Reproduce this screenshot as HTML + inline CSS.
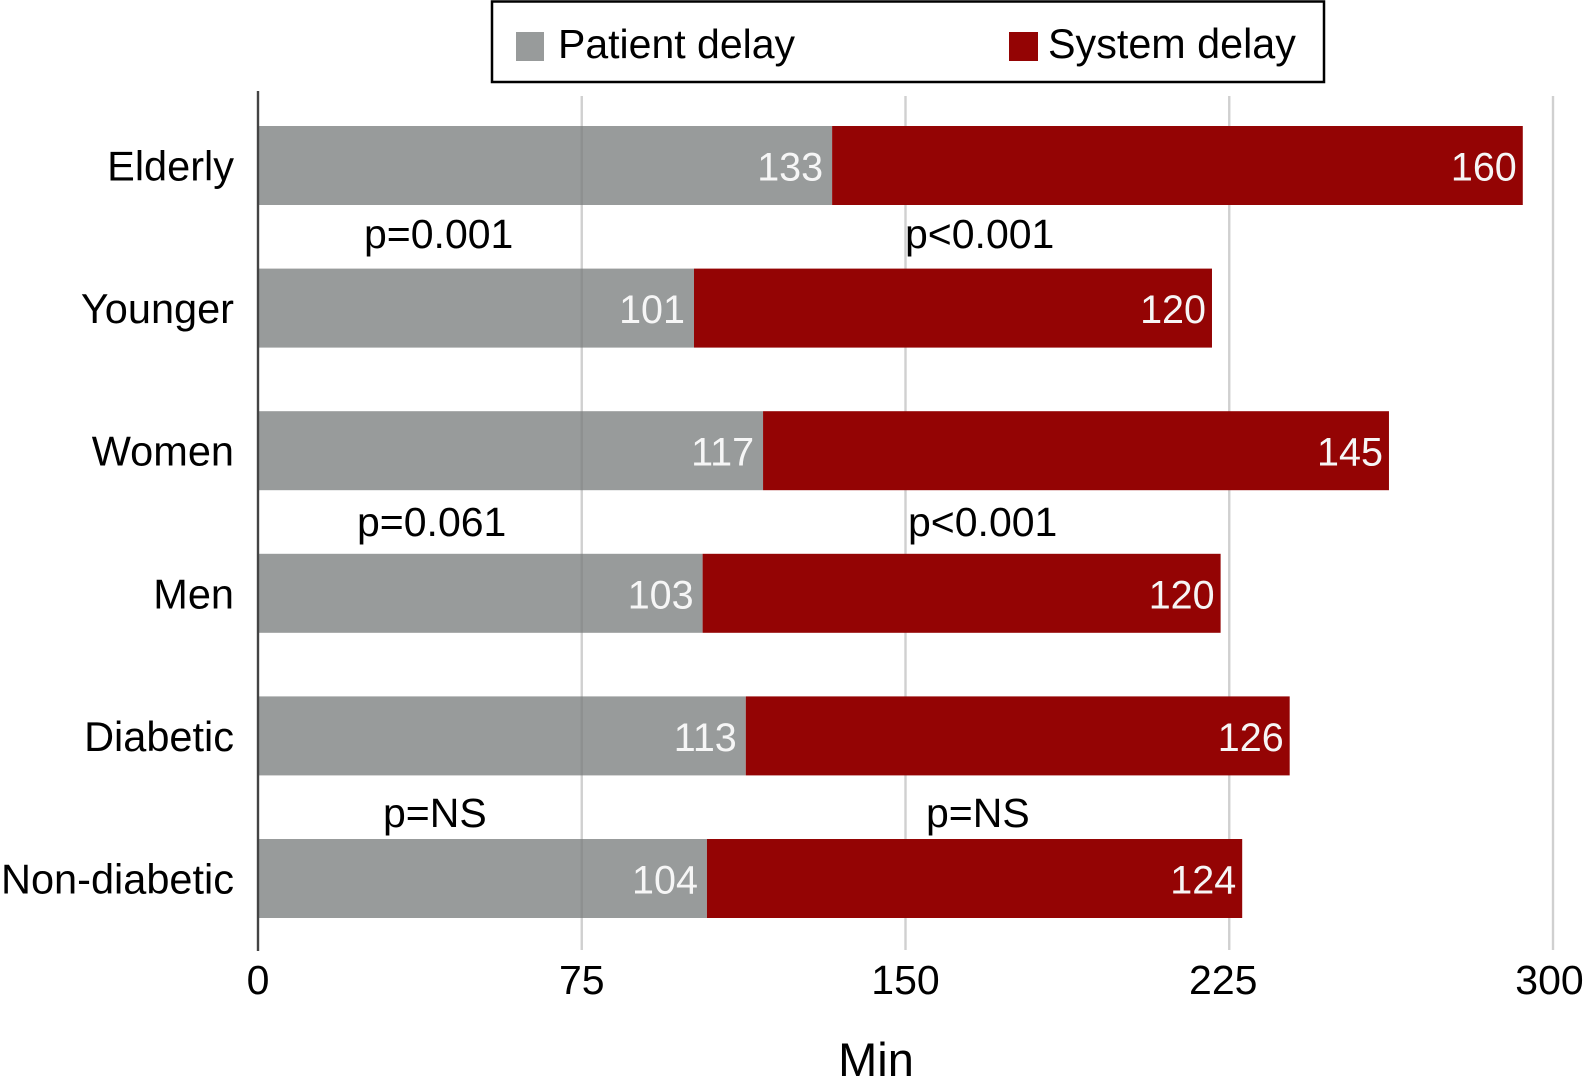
<!DOCTYPE html>
<html lang="en">
<head>
<meta charset="utf-8">
<title>Patient and system delay</title>
<style>
html,body{margin:0;padding:0;background:#fff;}
svg{display:block;font-family:"Liberation Sans",Arial,sans-serif;}
</style>
</head>
<body>
<svg id="chart" xmlns="http://www.w3.org/2000/svg" width="1585" height="1087" viewBox="0 0 1585 1087">
  <rect width="1585" height="1087" fill="#ffffff"/>
  <g>
    <rect x="492" y="1.5" width="832" height="80.5" fill="#fff" stroke="#000" stroke-width="2.5"/>
    <rect x="516" y="32" width="28" height="29" fill="#989b9b"/>
    <text x="558" y="58" font-size="41" fill="#000">Patient delay</text>
    <rect x="1009" y="32" width="29" height="29" fill="#940404"/>
    <text x="1048" y="58" font-size="41.3" fill="#000">System delay</text>
  </g>
  <g id="grid"></g>
  <g id="bars"></g>
  <g id="grid-over"></g>
  <line x1="258" y1="91" x2="258" y2="951" stroke="#444" stroke-width="2.4"/>
  <g id="cats"></g>
  <g id="ticks"></g>
  <g id="vals"></g>
  <g font-size="41" fill="#000">
    <text x="364" y="248">p=0.001</text>
    <text x="905" y="248">p&lt;0.001</text>
    <text x="357" y="536">p=0.061</text>
    <text x="908" y="536">p&lt;0.001</text>
    <text x="383" y="827">p=NS</text>
    <text x="926" y="827">p=NS</text>
  </g>
  <text x="876" y="1076" font-size="47" text-anchor="middle" fill="#000">Min</text>
</svg>
<script>
const categories = ["Elderly", "Younger", "Women", "Men", "Diabetic", "Non-diabetic"];
const patientDelay = [133, 101, 117, 103, 113, 104];
const systemDelay = [160, 120, 145, 120, 126, 124];
const xTicks = [0, 75, 150, 225, 300];

const NS = "http://www.w3.org/2000/svg";
const xScale = v => 258 + v * (1553 - 258) / 300;
const yCenter = i => 165.5 + i * 142.6;
const barH = 79;

function make(tag, parent, attrs, txt) {
  const el = document.createElementNS(NS, tag);
  for (const k in attrs) el.setAttribute(k, attrs[k]);
  if (txt !== undefined) el.textContent = txt;
  parent.appendChild(el);
  return el;
}

const gridG = document.getElementById("grid");
const tickG = document.getElementById("ticks");
xTicks.forEach(t => {
  const x = xScale(t);
  if (t > 0) {
    const gl = make("line", gridG, {x1: x, x2: x, y1: 96, y2: 950, stroke: "#d0d0d0", "stroke-width": 2.4});
    
    
  }
  const tx = t === 300 ? x - 3.5 : (t === 225 ? x - 6 : x);
  const lab = make("text", tickG, {x: tx, y: 994, "font-size": 41, "text-anchor": "middle", fill: "#000"}, String(t));
  
  
});

const barG = document.getElementById("bars");
const overG = document.getElementById("grid-over");
const catG = document.getElementById("cats");
const valG = document.getElementById("vals");
categories.forEach((c, i) => {
  const slug = c.toLowerCase();
  const cy = yCenter(i);
  const p = patientDelay[i];
  const s = systemDelay[i];
  const b1 = make("rect", barG, {x: xScale(0), y: cy - barH / 2, width: xScale(p) - xScale(0), height: barH, fill: "#989b9b"});
  
  
  const b2 = make("rect", barG, {x: xScale(p), y: cy - barH / 2, width: xScale(p + s) - xScale(p), height: barH, fill: "#940404"});
  
  
  xTicks.filter(t => t > 0 && t < p).forEach(t => {
    const ol = make("line", overG, {x1: xScale(t), x2: xScale(t), y1: cy - barH / 2, y2: cy + barH / 2, stroke: "#000", "stroke-opacity": 0.07, "stroke-width": 2.4});
    
    
  });
  const cl = make("text", catG, {x: 234, y: cy + 15, "font-size": 41.5, "text-anchor": "end", fill: "#000"}, c);
  
  
  const v1 = make("text", valG, {x: xScale(p) - 9, y: cy + 15, "font-size": 39.5, "text-anchor": "end", fill: "#f6f6f6"}, String(p));
  
  
  const v2 = make("text", valG, {x: xScale(p + s) - 6, y: cy + 15, "font-size": 39.5, "text-anchor": "end", fill: "#f6f6f6"}, String(s));
  
  
});
</script>
</body>
</html>
